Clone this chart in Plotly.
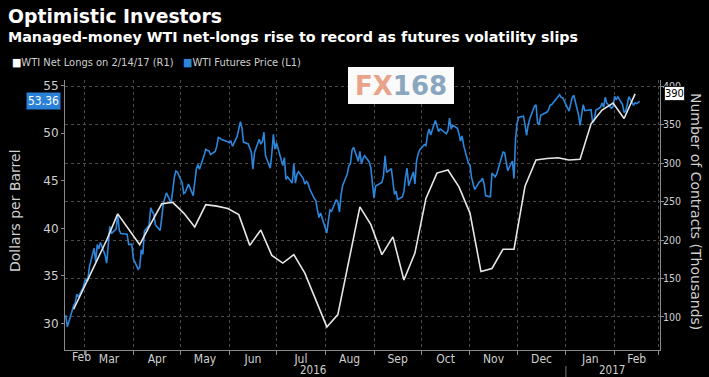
import plotly.graph_objects as go

# ---------------- data ----------------
price_dates = [
    "2016-02-17", "2016-02-18", "2016-02-19", "2016-02-22", "2016-02-23", "2016-02-24", "2016-02-25", "2016-02-26",
    "2016-02-29", "2016-03-01", "2016-03-02", "2016-03-03", "2016-03-04", "2016-03-07", "2016-03-08", "2016-03-09",
    "2016-03-10", "2016-03-11", "2016-03-14", "2016-03-15", "2016-03-16", "2016-03-17", "2016-03-18", "2016-03-21",
    "2016-03-22", "2016-03-23", "2016-03-24", "2016-03-28", "2016-03-29", "2016-03-30", "2016-03-31", "2016-04-01",
    "2016-04-04", "2016-04-05", "2016-04-06", "2016-04-07", "2016-04-08", "2016-04-11", "2016-04-12", "2016-04-13",
    "2016-04-14", "2016-04-15", "2016-04-18", "2016-04-19", "2016-04-20", "2016-04-21", "2016-04-22", "2016-04-25",
    "2016-04-26", "2016-04-27", "2016-04-28", "2016-04-29", "2016-05-02", "2016-05-03", "2016-05-04", "2016-05-05",
    "2016-05-06", "2016-05-09", "2016-05-10", "2016-05-11", "2016-05-12", "2016-05-13", "2016-05-16", "2016-05-17",
    "2016-05-18", "2016-05-19", "2016-05-20", "2016-05-23", "2016-05-24", "2016-05-25", "2016-05-26", "2016-05-27",
    "2016-05-31", "2016-06-01", "2016-06-02", "2016-06-03", "2016-06-06", "2016-06-07", "2016-06-08", "2016-06-09",
    "2016-06-10", "2016-06-13", "2016-06-14", "2016-06-15", "2016-06-16", "2016-06-17", "2016-06-20", "2016-06-21",
    "2016-06-22", "2016-06-23", "2016-06-24", "2016-06-27", "2016-06-28", "2016-06-29", "2016-06-30", "2016-07-01",
    "2016-07-05", "2016-07-06", "2016-07-07", "2016-07-08", "2016-07-11", "2016-07-12", "2016-07-13", "2016-07-14",
    "2016-07-15", "2016-07-18", "2016-07-19", "2016-07-20", "2016-07-21", "2016-07-22", "2016-07-25", "2016-07-26",
    "2016-07-27", "2016-07-28", "2016-07-29", "2016-08-01", "2016-08-02", "2016-08-03", "2016-08-04", "2016-08-05",
    "2016-08-08", "2016-08-09", "2016-08-10", "2016-08-11", "2016-08-12", "2016-08-15", "2016-08-16", "2016-08-17",
    "2016-08-18", "2016-08-19", "2016-08-22", "2016-08-23", "2016-08-24", "2016-08-25", "2016-08-26", "2016-08-29",
    "2016-08-30", "2016-08-31", "2016-09-01", "2016-09-02", "2016-09-06", "2016-09-07", "2016-09-08", "2016-09-09",
    "2016-09-12", "2016-09-13", "2016-09-14", "2016-09-15", "2016-09-16", "2016-09-19", "2016-09-20", "2016-09-21",
    "2016-09-22", "2016-09-23", "2016-09-26", "2016-09-27", "2016-09-28", "2016-09-29", "2016-09-30", "2016-10-03",
    "2016-10-04", "2016-10-05", "2016-10-06", "2016-10-07", "2016-10-10", "2016-10-11", "2016-10-12", "2016-10-13",
    "2016-10-14", "2016-10-17", "2016-10-18", "2016-10-19", "2016-10-20", "2016-10-21", "2016-10-24", "2016-10-25",
    "2016-10-26", "2016-10-27", "2016-10-28", "2016-10-31", "2016-11-01", "2016-11-02", "2016-11-03", "2016-11-04",
    "2016-11-07", "2016-11-08", "2016-11-09", "2016-11-10", "2016-11-11", "2016-11-14", "2016-11-15", "2016-11-16",
    "2016-11-17", "2016-11-18", "2016-11-21", "2016-11-22", "2016-11-23", "2016-11-25", "2016-11-28", "2016-11-29",
    "2016-11-30", "2016-12-01", "2016-12-02", "2016-12-05", "2016-12-06", "2016-12-07", "2016-12-08", "2016-12-09",
    "2016-12-12", "2016-12-13", "2016-12-14", "2016-12-15", "2016-12-16", "2016-12-19", "2016-12-20", "2016-12-21",
    "2016-12-22", "2016-12-23", "2016-12-27", "2016-12-28", "2016-12-29", "2016-12-30", "2017-01-03", "2017-01-04",
    "2017-01-05", "2017-01-06", "2017-01-09", "2017-01-10", "2017-01-11", "2017-01-12", "2017-01-13", "2017-01-17",
    "2017-01-18", "2017-01-19", "2017-01-20", "2017-01-23", "2017-01-24", "2017-01-25", "2017-01-26", "2017-01-27",
    "2017-01-30", "2017-01-31", "2017-02-01", "2017-02-02", "2017-02-03", "2017-02-06", "2017-02-07", "2017-02-08",
    "2017-02-09", "2017-02-10", "2017-02-13", "2017-02-14", "2017-02-15", "2017-02-17",
]
price_values = [
    30.66, 30.77, 29.64, 31.48, 31.87, 32.15, 33.07, 32.78,
    33.75, 34.40, 34.66, 34.57, 35.92, 37.90, 36.50, 38.29,
    37.84, 38.50, 37.18, 36.34, 38.46, 40.20, 39.44, 39.91,
    41.45, 39.79, 39.46, 39.39, 38.28, 38.32, 38.34, 36.79,
    35.70, 35.89, 37.75, 37.26, 39.72, 40.36, 42.17, 41.76,
    41.50, 40.36, 39.78, 41.08, 42.63, 43.18, 43.73, 42.64,
    44.04, 45.33, 46.03, 45.92, 44.78, 43.65, 43.78, 44.32,
    44.66, 43.44, 44.66, 46.23, 46.70, 46.21, 47.72, 48.31,
    48.19, 48.16, 47.75, 48.08, 48.62, 49.56, 49.48, 49.33,
    49.10, 49.01, 49.17, 48.62, 49.69, 50.36, 51.23, 50.56,
    49.07, 48.88, 48.49, 48.01, 46.21, 47.98, 49.37, 48.85,
    49.13, 50.11, 47.64, 46.33, 47.85, 49.88, 48.33, 48.99,
    46.60, 47.43, 45.14, 45.41, 44.76, 46.80, 44.75, 45.68,
    45.95, 45.24, 44.65, 44.94, 44.75, 44.19, 43.13, 42.92,
    41.92, 41.14, 41.60, 40.06, 39.51, 40.83, 41.93, 41.80,
    43.02, 42.77, 41.71, 43.49, 44.49, 45.74, 46.58, 46.79,
    48.22, 48.52, 47.05, 48.10, 46.77, 47.33, 47.64, 46.98,
    46.35, 44.70, 43.16, 44.44, 44.83, 45.50, 47.62, 45.88,
    46.29, 44.90, 43.58, 43.91, 43.03, 43.30, 43.85, 45.34,
    46.32, 44.48, 45.93, 44.67, 47.05, 47.83, 48.24, 48.81,
    48.69, 49.83, 50.44, 49.81, 51.35, 50.79, 50.18, 50.44,
    50.35, 49.94, 50.29, 51.60, 50.43, 50.85, 50.52, 49.96,
    49.18, 49.72, 48.70, 46.86, 46.67, 45.34, 44.66, 44.07,
    44.89, 44.98, 45.27, 44.66, 43.41, 43.32, 45.81, 45.57,
    45.42, 45.69, 47.49, 48.03, 47.96, 46.06, 47.08, 45.23,
    49.44, 51.06, 51.68, 51.79, 50.93, 49.77, 50.84, 51.50,
    52.83, 52.98, 51.04, 50.90, 51.90, 52.12, 52.23, 52.49,
    52.95, 53.02, 53.90, 54.06, 53.77, 53.72, 52.33, 53.26,
    53.76, 53.99, 51.96, 50.82, 52.25, 53.01, 52.37, 52.48,
    51.08, 51.37, 52.42, 52.75, 53.18, 52.75, 53.78, 53.17,
    52.63, 52.81, 53.88, 53.54, 53.83, 53.01, 52.17, 52.34,
    53.00, 53.86, 52.93, 53.20, 53.11, 53.36,
]

longs_dates = [
    "2016-02-23", "2016-03-01", "2016-03-08", "2016-03-15", "2016-03-22", "2016-03-29", "2016-04-05", "2016-04-12",
    "2016-04-19", "2016-04-26", "2016-05-03", "2016-05-10", "2016-05-17", "2016-05-24", "2016-05-31", "2016-06-07",
    "2016-06-14", "2016-06-21", "2016-06-28", "2016-07-05", "2016-07-12", "2016-07-19", "2016-07-26", "2016-08-02",
    "2016-08-09", "2016-08-16", "2016-08-23", "2016-08-30", "2016-09-06", "2016-09-13", "2016-09-20", "2016-09-27",
    "2016-10-04", "2016-10-11", "2016-10-18", "2016-10-25", "2016-11-01", "2016-11-08", "2016-11-15", "2016-11-22",
    "2016-11-29", "2016-12-06", "2016-12-13", "2016-12-20", "2016-12-27", "2017-01-03", "2017-01-10", "2017-01-17",
    "2017-01-24", "2017-01-31", "2017-02-07", "2017-02-14",
]
longs_values = [
    110, 141, 170, 200, 234, 214, 194, 221,
    247, 249, 235, 217, 246, 244, 241, 233,
    193, 213, 180, 170, 181, 157, 122, 87,
    103, 174, 243, 220, 181, 204, 148, 183,
    254, 287, 291, 269, 235, 159, 163, 188,
    188, 270, 304, 306, 307, 304, 305, 351,
    369, 378, 358, 390,
]

left_ticks = [30, 35, 40, 45, 50, 55]
right_ticks = [100, 150, 200, 250, 300, 350, 400]
year_labels = ["2016", "2017"]
year_centers = ["2016-07-24", "2017-01-30"]

# ---------------- layout helpers ----------------
W, H = 709, 377
L, R, T, B = 65, 49, 80, 27
PW, PH = W - L - R, H - T - B


def px(xp):
    return (xp - L) / PW


def py(yp):
    return 1 - (yp - T) / PH


BLUE = "#2b86dc"
WHITE = "#e6e6e6"
GRID = "#4a4a4a"
AXIS = "#8a8a8a"
TXT = "#cfcfcf"
COND = "DejaVu Sans Condensed, DejaVu Sans, sans-serif"
SANS = "DejaVu Sans, sans-serif"

fig = go.Figure()
fig.add_trace(go.Scatter(x=price_dates, y=price_values, mode="lines",
                         line=dict(color=BLUE, width=1.6), yaxis="y",
                         name="WTI Futures Price (L1)"))
fig.add_trace(go.Scatter(x=longs_dates, y=longs_values, mode="lines",
                         line=dict(color=WHITE, width=1.6), yaxis="y2",
                         name="WTI Net Longs on 2/14/17 (R1)"))

annotations = [
    dict(text="<b>Optimistic Investors</b>", x=px(6), y=py(17), xref="paper", yref="paper",
         xanchor="left", yanchor="middle", showarrow=False,
         font=dict(family=SANS, size=18.8, color="white")),
    dict(text="<b>Managed-money WTI net-longs rise to record as futures volatility slips</b>",
         x=px(6), y=py(37), xref="paper", yref="paper", xanchor="left", yanchor="middle",
         showarrow=False, font=dict(family=SANS, size=14.3, color="white")),
    dict(text="<span style='color:white'>■</span>WTI Net Longs on 2/14/17 (R1)   "
              "<span style='color:" + BLUE + "'>■</span>WTI Futures Price (L1)",
         x=px(10), y=py(62), xref="paper", yref="paper", xanchor="left", yanchor="middle",
         showarrow=False, font=dict(family=COND, size=11, color=TXT)),
    dict(text="Dollars per Barrel", textangle=-90, x=px(15), y=py(210), xref="paper", yref="paper",
         xanchor="center", yanchor="middle", showarrow=False,
         font=dict(family=SANS, size=14, color=TXT)),
    dict(text="Number of Contracts (Thousands)", textangle=90, x=px(696), y=py(211), xref="paper",
         yref="paper", xanchor="center", yanchor="middle", showarrow=False,
         font=dict(family=SANS, size=14, color=TXT)),
    dict(text=f"{price_values[-1]:.2f}", x=0, y=price_values[-1], xref="paper", yref="y",
         xanchor="right", yanchor="middle", xshift=-4, showarrow=False, bgcolor="#2a7fd6",
         borderpad=1, font=dict(family=COND, size=12, color="white")),
    dict(text=f"{longs_values[-1]}", x=1, y=longs_values[-1], xref="paper", yref="y2",
         xanchor="left", yanchor="middle", xshift=4, showarrow=False, bgcolor="white",
         bordercolor="#222", borderwidth=1, borderpad=0,
         font=dict(family=COND, size=11, color="black")),
    dict(text="Feb", x=px(81), y=py(357), xref="paper", yref="paper", xanchor="center",
         yanchor="middle", showarrow=False, font=dict(family=COND, size=12, color=TXT)),
    dict(text="<b><span style='color:#e9a38b'>FX</span><span style='color:#8ba7c0'>168</span></b>",
         x=px(401), y=py(86), xref="paper", yref="paper", xanchor="center", yanchor="middle",
         showarrow=False, font=dict(family=SANS, size=26)),
]
for lab, c in zip(year_labels, year_centers):
    annotations.append(dict(text=lab, x=c, y=py(370), xref="x", yref="paper", xanchor="center",
                            yanchor="middle", showarrow=False,
                            font=dict(family=COND, size=11.5, color=TXT)))

shapes = [
    dict(type="rect", xref="paper", yref="paper", x0=px(348), x1=px(454), y0=py(104), y1=py(67),
         fillcolor="#fafafa", line=dict(width=0), layer="above"),
    dict(type="line", xref="x", yref="paper", x0="2017-01-01", x1="2017-01-01",
         y0=py(366), y1=py(380), line=dict(color="#777", width=1)),
]

fig.update_layout(
    width=W, height=H, margin=dict(l=L, r=R, t=T, b=B, autoexpand=False),
    paper_bgcolor="black", plot_bgcolor="black", showlegend=False,
    annotations=annotations, shapes=shapes,
    xaxis=dict(type="date", range=["2016-02-17 12:00", "2017-03-01 20:00"],
               dtick="M1", tick0="2016-01-01", ticklabelmode="period", tickformat="%b",
               showgrid=True, gridcolor=GRID, griddash="dot", gridwidth=1,
               ticks="outside", ticklen=4, tickcolor=AXIS, showline=True, linecolor=AXIS,
               ticklabelstandoff=-6, automargin=False,
               tickfont=dict(family=COND, size=12, color=TXT), zeroline=False),
    yaxis=dict(range=[27.2, 55.6], tickmode="array", tickvals=left_ticks, showgrid=False,
               ticks="outside", ticklen=3, tickcolor=AXIS, showline=True, linecolor=AXIS,
               automargin=False,
               tickfont=dict(family=SANS, size=12, color=TXT), zeroline=False),
    yaxis2=dict(range=[57, 408], tickmode="array", tickvals=right_ticks, overlaying="y",
                side="right", showgrid=True, gridcolor=GRID, griddash="dot",
                ticks="outside", ticklen=3, tickcolor=AXIS, showline=True, linecolor=AXIS,
                ticklabelstandoff=-3, automargin=False,
                tickfont=dict(family=COND, size=10.5, color=TXT), zeroline=False),
)

fig.write_html("out.html", config={"displayModeBar": False},
               post_script="document.body.style.margin='0';document.body.style.background='black';")
